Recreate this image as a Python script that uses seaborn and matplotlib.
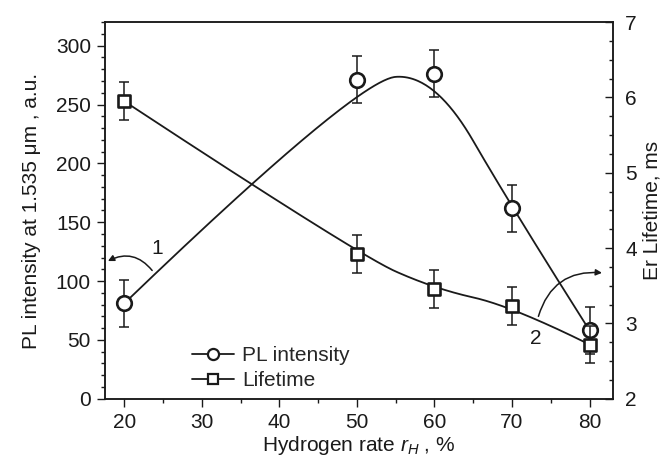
import numpy as np
import matplotlib
matplotlib.use("Agg")
import matplotlib.pyplot as plt
from matplotlib.lines import Line2D
from matplotlib.ticker import MultipleLocator
import seaborn as sns

# Data
hydrogen_rate = [20, 50, 60, 70, 80]
pl_intensity = [81, 271, 276, 162, 58]
pl_err = [20, 20, 20, 20, 20]
lifetime = [5.95, 3.92, 3.46, 3.23, 2.72]
lifetime_err = [0.25, 0.25, 0.25, 0.25, 0.25]

sns.set_style("ticks")
plt.rcParams["font.family"] = ["Liberation Sans", "DejaVu Sans"]
plt.rcParams["mathtext.fontset"] = "custom"
plt.rcParams["mathtext.rm"] = "Liberation Sans"
plt.rcParams["mathtext.it"] = "Liberation Sans:italic"

INK = "#1a1a1a"
FS = 15


# Quadratic B-spline with the data points as control points (Origin style)
def bspline(x, y, n=60):
    P = np.column_stack([x, y]).astype(float)
    k = len(P) - 1
    starts = [P[0]] + [(P[i] + P[i + 1]) / 2 for i in range(1, k - 1)]
    ends = [(P[i] + P[i + 1]) / 2 for i in range(1, k - 1)] + [P[k]]
    t = np.linspace(0, 1, n)[:, None]
    segs = []
    for i in range(k - 1):
        s, c, e = starts[i], P[i + 1], ends[i]
        segs.append((1 - t) ** 2 * s + 2 * t * (1 - t) * c + t ** 2 * e)
    curve = np.vstack(segs)
    return curve[:, 0], curve[:, 1]


fig = plt.figure(figsize=(6.72, 4.61), dpi=100)
ax = fig.add_axes([0.156, 0.135, 0.756, 0.817])
ax2 = ax.twinx()

# PL intensity (left axis)
cx, cy = bspline(hydrogen_rate, pl_intensity)
sns.lineplot(x=cx, y=cy, sort=False, color=INK, lw=1.3, ax=ax)
ax.errorbar(hydrogen_rate, pl_intensity, yerr=pl_err, fmt="none", ecolor=INK,
            elinewidth=1.1, capsize=3.8, capthick=1.1)
sns.scatterplot(x=hydrogen_rate, y=pl_intensity, marker="o", s=110, facecolor="white",
                edgecolor=INK, linewidth=1.9, zorder=5, ax=ax)

# Lifetime (right axis)
lx, ly = bspline(hydrogen_rate, lifetime)
sns.lineplot(x=lx, y=ly, sort=False, color=INK, lw=1.3, ax=ax2)
ax2.errorbar(hydrogen_rate, lifetime, yerr=lifetime_err, fmt="none", ecolor=INK,
             elinewidth=1.1, capsize=3.8, capthick=1.1)
sns.scatterplot(x=hydrogen_rate, y=lifetime, marker="s", s=80, facecolor="white",
                edgecolor=INK, linewidth=1.9, zorder=5, ax=ax2)

ax.set_xlim(17.5, 83)
ax.set_ylim(0, 320)
ax2.set_ylim(2, 7)

ax.xaxis.set_major_locator(MultipleLocator(10))
ax.xaxis.set_minor_locator(MultipleLocator(5))
ax.yaxis.set_major_locator(MultipleLocator(50))
ax.yaxis.set_minor_locator(MultipleLocator(10))
ax2.yaxis.set_major_locator(MultipleLocator(1))
ax2.yaxis.set_minor_locator(MultipleLocator(0.25))

ax.tick_params(axis="both", which="major", direction="out", length=6, width=1,
               labelsize=FS, colors=INK, top=False, pad=4)
ax.tick_params(axis="both", which="minor", direction="out", length=3, width=1,
               colors=INK, top=False)
ax2.tick_params(axis="y", which="major", direction="in", length=6, width=1,
                labelsize=FS, colors=INK, pad=9)
ax2.tick_params(axis="y", which="minor", direction="in", length=3, width=1, colors=INK)

for a in (ax, ax2):
    for sp in a.spines.values():
        sp.set_visible(True)
        sp.set_linewidth(1.1)
        sp.set_color(INK)

ax.set_xlabel(r"Hydrogen rate $r_H$ , %", fontsize=FS, color=INK, labelpad=2)
ax.set_ylabel("PL intensity at 1.535 μm , a.u.", fontsize=FS, color=INK, labelpad=11)
ax2.set_ylabel("Er Lifetime, ms", fontsize=FS, color=INK, labelpad=4)

# Curve annotations
ax.annotate("", xy=(17.9, 117), xytext=(23.6, 109),
            arrowprops=dict(arrowstyle="-|>", color=INK, lw=1.1, mutation_scale=9,
                            connectionstyle="arc3,rad=0.4", shrinkA=0, shrinkB=0))
ax.text(24.3, 128, "1", fontsize=FS, color=INK, ha="center", va="center")
ax.annotate("", xy=(81.6, 107), xytext=(73.4, 70),
            arrowprops=dict(arrowstyle="-|>", color=INK, lw=1.1, mutation_scale=9,
                            connectionstyle="arc3,rad=-0.4", shrinkA=0, shrinkB=0))
ax.text(73.0, 51, "2", fontsize=FS, color=INK, ha="center", va="center")

handles = [
    Line2D([], [], color=INK, lw=1.3, marker="o", markersize=8, markerfacecolor="white",
           markeredgecolor=INK, markeredgewidth=1.6),
    Line2D([], [], color=INK, lw=1.3, marker="s", markersize=7, markerfacecolor="white",
           markeredgecolor=INK, markeredgewidth=1.6),
]
ax.legend(handles, ["PL intensity", "Lifetime"], loc="lower left",
          bbox_to_anchor=(0.155, 0.0), frameon=False, fontsize=FS, handlelength=2.0,
          handletextpad=0.4, labelspacing=0.3, borderaxespad=0)

fig.savefig("out.png", dpi=100)
